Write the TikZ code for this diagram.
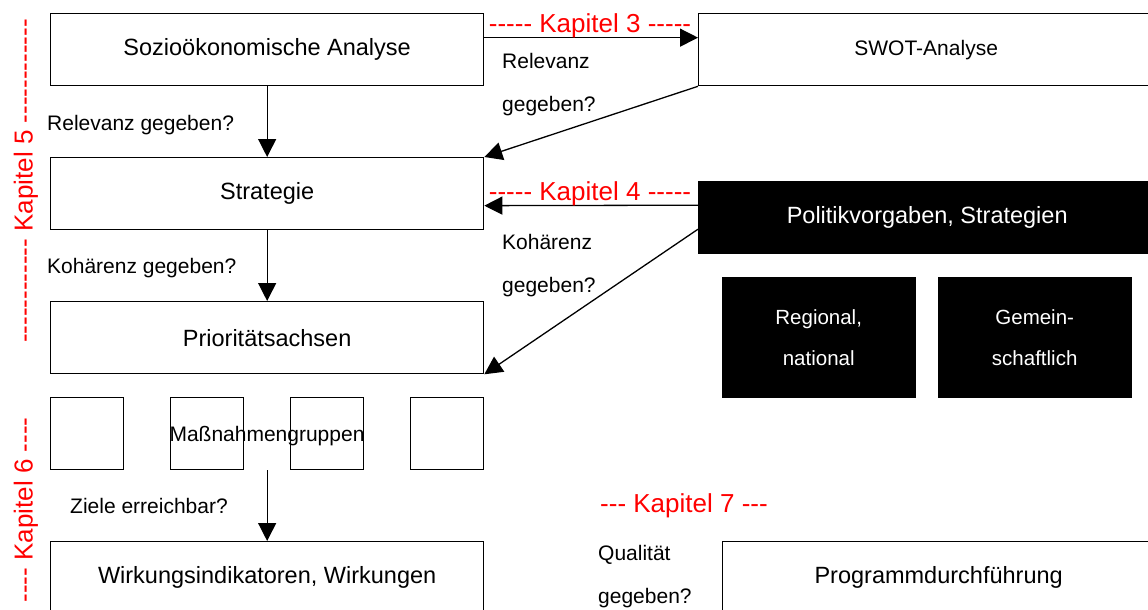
\documentclass[tikz,border=0pt]{standalone}
\usepackage{fontspec}
\setmainfont{Liberation Sans}[Ligatures=TeXOff]
\usetikzlibrary{arrows.meta}
\begin{document}
\begin{tikzpicture}[x=1pt,y=-1pt,
  box/.style={draw, line width=1.3pt, inner sep=0pt, anchor=north west,
              minimum width=433pt, minimum height=72pt,
              font=\fontsize{23.5}{28}\selectfont},
  smallbox/.style={draw, line width=1.3pt, inner sep=0pt, anchor=north west,
              minimum width=73pt, minimum height=72pt},
  blk/.style={fill=black, draw=black, text=white, inner sep=0pt, anchor=north west, align=center},
  lbl/.style={anchor=base west, inner sep=0pt, font=\fontsize{21}{25}\selectfont},
  kap/.style={text=red, inner sep=0pt, font=\fontsize{26}{30}\selectfont},
  arr/.style={line width=1.3pt, -{Triangle[length=18pt,width=18pt]}}
]
\path[use as bounding box] (0,0) rectangle (1148,610);
\clip (0,0) rectangle (1148,610);
\fill[white] (0,0) rectangle (1148,610);

% left column boxes
\node[box] (sozio) at (50,13) {Sozioökonomische Analyse};
\node[box] (strat) at (50,157) {Strategie};
\node[box] (prio) at (50,301) {Prioritätsachsen};
\node[smallbox] (m1) at (50,397) {};
\node[smallbox] (m2) at (170,397) {};
\node[smallbox] (m3) at (290,397) {};
\node[smallbox] (m4) at (410,397) {};
\node[anchor=base, inner sep=0pt, font=\fontsize{21}{25}\selectfont] (massn) at (267,441) {Maßnahmengruppen};
\node[box] (wirk) at (50,541) {Wirkungsindikatoren, Wirkungen};

% right column boxes
\node[box, minimum width=455pt, font=\fontsize{21}{25}\selectfont] (swot) at (698,13) {SWOT-Analyse};
\node[blk, minimum width=458pt, minimum height=72pt, font=\fontsize{23.5}{28}\selectfont] (pol) at (698,181) {Politikvorgaben, Strategien};
\node[blk, minimum width=193pt, minimum height=120pt, font=\fontsize{20.5}{41}\selectfont] (reg) at (722,277) {Regional,\\national};
\node[blk, minimum width=193pt, minimum height=120pt, font=\fontsize{20.5}{41}\selectfont] (gem) at (938,277) {Gemein-\\schaftlich};
\node[box, minimum width=432pt] (prog) at (722,541) {Programmdurchführung};

% connectors
\draw[arr] ([yshift=12pt]sozio.east) -- ([yshift=12pt]swot.west);
\draw[arr] (swot.south west) -- (strat.north east);
\draw[arr] (sozio.south) -- (strat.north);
\draw[arr] ([yshift=12pt]pol.west) -- ([yshift=-12pt]strat.east);
\draw[arr] ([yshift=-12pt]pol.west) -- (prio.south east);
\draw[arr] (strat.south) -- (prio.north);
\draw[arr] (m2.south east -| wirk.north) -- (wirk.north);

% labels
\node[lbl] (l1) at (47,130) {Relevanz gegeben?};
\node[lbl] (l2) at (502,68) {Relevanz};
\node[lbl] (l3) at (502,111) {gegeben?};
\node[lbl] (l4) at (47,273) {Kohärenz gegeben?};
\node[lbl] (l5) at (502,249) {Kohärenz};
\node[lbl] (l6) at (502,292) {gegeben?};
\node[lbl] (l7) at (70,513) {Ziele erreichbar?};
\node[lbl] (l8) at (598,560) {Qualität};
\node[lbl] (l9) at (598,603) {gegeben?};

% chapter marks
\node[kap, anchor=base] (k3) at (590,33) {----- Kapitel 3 -----};
\node[kap, anchor=base] (k4) at (590,200) {----- Kapitel 4 -----};
\node[kap, anchor=base west] (k7) at (600,512) {--- Kapitel 7 ---};
\node[kap, rotate=90] (k5) at (26,181) {------------ Kapitel 5 ------------};
\node[kap, rotate=90] (k6) at (26,510) {---- Kapitel 6 ----};
\end{tikzpicture}
\end{document}
